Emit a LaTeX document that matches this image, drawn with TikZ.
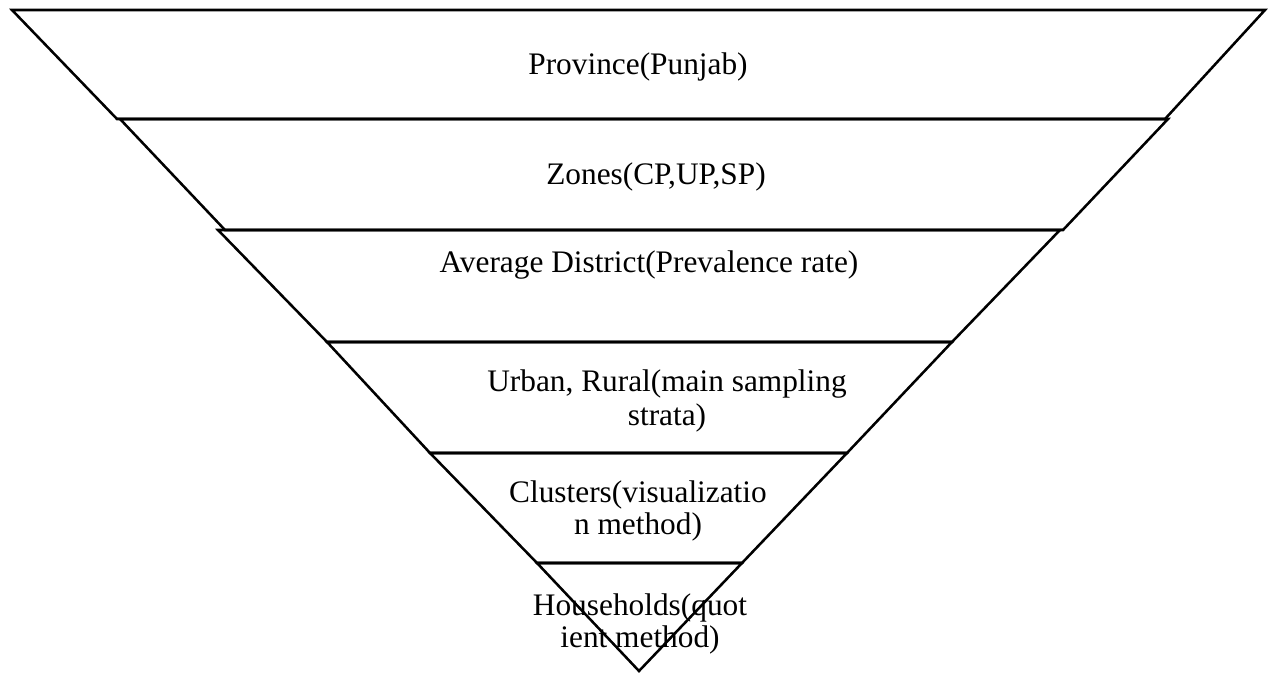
\documentclass[tikz,border=0pt]{standalone}
\usepackage{fontspec}
\setmainfont{Liberation Serif}
\usepackage{tikz}

\tikzset{
  layer/.style={line width=1.9pt, line join=miter},
  lbl/.style={inner sep=0pt, align=center, font=\fontsize{23.5}{24}\selectfont}
}

\begin{document}
\begin{tikzpicture}[x=0.75pt,y=0.75pt,yscale=-1,xscale=1]
        \useasboundingbox (0,0) rectangle (1268,673);
        % layers of the funnel
        \draw [layer] (12,10) -- (1265,10) -- (1165,119) -- (117,119) -- cycle ;
        \draw [layer] (120,119) -- (1168,119) -- (1063,230) -- (225,230) -- cycle ;
        \draw [layer] (218,230) -- (1060,230) -- (952,342) -- (327,342) -- cycle ;
        \draw [layer] (327,342) -- (952,342) -- (847,453) -- (430,453) -- cycle ;
        \draw [layer] (430,453) -- (847,453) -- (742,563) -- (537,563) -- cycle ;
        \draw [layer] (537,563) -- (742,563) -- (639,671) -- cycle ;

        % labels
        \node [lbl] (province) at (638,67) {Province(Punjab)};
        \node [lbl] (zones) at (656,177) {Zones(CP,UP,SP)};
        \node [lbl] (district) at (649,265) {Average District(Prevalence rate)};
        \node [lbl] (strata) at (667,401) {Urban, Rural(main sampling\\[2pt] strata)};
        \node [lbl] (clusters) at (638,511) {Clusters(visualizatio\\ n method)};
        \node [lbl] (households) at (640,624) {Households(quot\\ ient method)};
\end{tikzpicture}
\end{document}
